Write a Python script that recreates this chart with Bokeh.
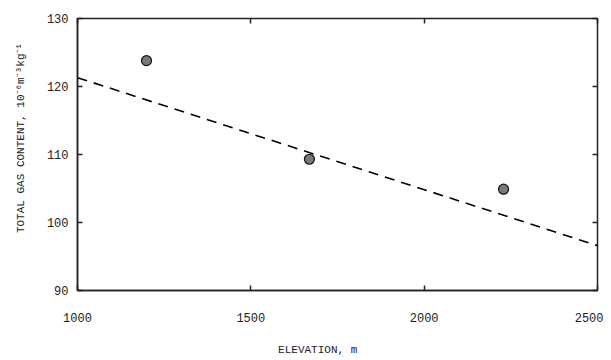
from bokeh.plotting import figure
from bokeh.models import LinearAxis, FixedTicker, Range1d
from bokeh.embed import file_html
from bokeh.resources import INLINE

# Data
elevation = [1199, 1669, 2229]
gas_content = [123.8, 109.3, 104.9]
fit_x = [1000, 2500]
fit_y = [121.3, 96.6]
x_ticks = [1000, 1500, 2000, 2500]
y_ticks = [90, 100, 110, 120, 130]

FONT = "Liberation Mono"
NB = "\u00a0"

p = figure(width=603, height=358, output_backend="svg", toolbar_location=None,
           x_range=Range1d(1000, 2500), y_range=Range1d(90, 130),
           min_border_left=77, min_border_right=6, min_border_top=18, min_border_bottom=60)
p.grid.visible = False
p.outline_line_color = "#222222"
p.outline_line_width = 1.5

for ax in (p.xaxis[0], p.yaxis[0]):
    ax.major_tick_in = 5
    ax.major_tick_out = 0
    ax.minor_tick_in = 0
    ax.minor_tick_out = 0
    ax.axis_line_color = "#222222"
    ax.axis_line_width = 1.5
    ax.major_tick_line_color = "#222222"
    ax.major_tick_line_width = 1.5
    ax.major_label_text_font = FONT
    ax.major_label_text_font_size = "12px"
    ax.major_label_text_color = "#222222"
    ax.axis_label_text_font = FONT
    ax.axis_label_text_font_size = "11px"
    ax.axis_label_text_font_style = "normal"
    ax.axis_label_text_color = "#222222"
p.xaxis[0].ticker = FixedTicker(ticks=x_ticks)
p.yaxis[0].ticker = FixedTicker(ticks=y_ticks)
p.xaxis[0].major_label_standoff = 22
p.yaxis[0].major_label_standoff = 9
p.xaxis[0].axis_label = "ELEVATION, m" + NB * 6
p.xaxis[0].axis_label_standoff = 19
p.yaxis[0].axis_label = NB * 5 + "TOTAL GAS CONTENT, 10\u207b\u2076m\u207b\u00b3kg\u207b\u00b9"
p.yaxis[0].axis_label_standoff = 17

for loc, ticks in (("right", y_ticks), ("above", x_ticks)):
    ax = LinearAxis(ticker=FixedTicker(ticks=ticks))
    ax.major_tick_in = 5
    ax.major_tick_out = 0
    ax.minor_tick_in = 0
    ax.minor_tick_out = 0
    ax.major_label_overrides = {t: "" for t in ticks}
    ax.major_label_standoff = 0
    ax.axis_line_color = None
    ax.major_tick_line_color = "#222222"
    ax.major_tick_line_width = 1.5
    p.add_layout(ax, loc)

p.line(fit_x, fit_y, line_color="black", line_width=1.6, line_dash="10 7")
p.scatter(elevation, gas_content, size=10, fill_color="#7a7a7a",
          line_color="#111111", line_width=1.2)

open("out.html", "w").write(file_html(p, INLINE))
